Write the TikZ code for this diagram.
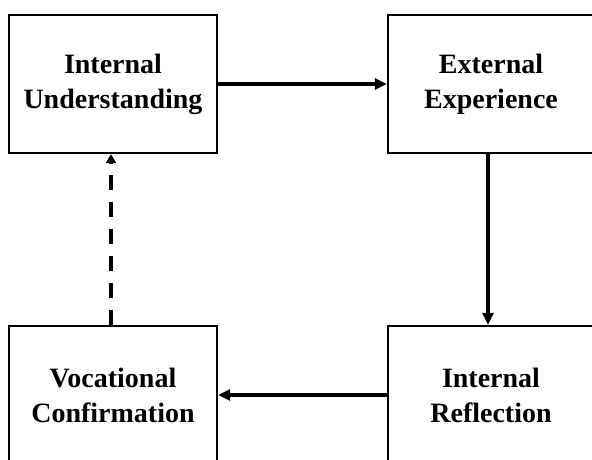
\documentclass[tikz,border=0pt]{standalone}
\usepackage{fontspec}
\setmainfont{Liberation Serif}
\usetikzlibrary{arrows.meta}
\tikzset{
  stagebox/.style={draw,line width=2.4pt,minimum width=208pt,minimum height=138pt,
    inner sep=0pt,align=center,font=\fontsize{28}{35}\selectfont\bfseries},
  flow/.style={line width=3.2pt,-{Triangle[length=12pt,width=11pt]}},
}

\begin{document}
\begin{tikzpicture}[x=1pt,y=-1pt]
\useasboundingbox (0,0) rectangle (592,460);
% boxes
\node[stagebox] (undst) at (113,84) {Internal\\Understanding};
\node[stagebox,minimum width=206pt] (exper) at (491,84) {External\\Experience};
\node[stagebox,minimum width=206pt] (refl) at (491,395) {Internal\\Reflection};
\node[stagebox] (confm) at (113,395) {Vocational\\Confirmation};
% arrows
\draw[flow] (undst.east) -- (exper.west);
\draw[flow] ([xshift=-3pt]exper.south) -- ([xshift=-3pt]refl.north);
\draw[flow] (refl.west) -- (confm.east);
\draw[flow,dash pattern=on 15pt off 12pt,-{Triangle[length=9pt,width=10pt]}]
  ([xshift=-2pt]confm.north) -- ([xshift=-2pt]undst.south);
\end{tikzpicture}
\end{document}
